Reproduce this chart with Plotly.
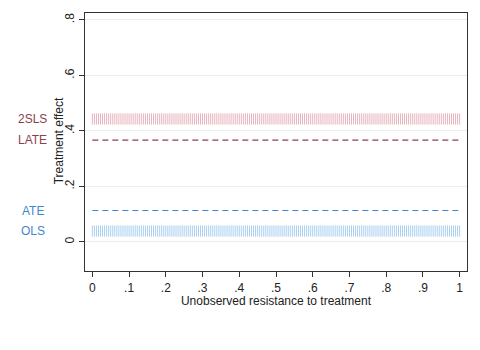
import numpy as np
import plotly.graph_objects as go

# Data
series_names = ["2SLS", "LATE", "ATE", "OLS"]
series_values = [0.443, 0.367, 0.113, 0.039]
series_styles = ["band", "dash", "dash", "band"]
series_colors = ["#8c3f4f", "#8c3f4f", "#3f86cf", "#3f86cf"]
band_colors = ["#e6b3bc", None, None, "#a9cfef"]
x_ticks = [0, 0.1, 0.2, 0.3, 0.4, 0.5, 0.6, 0.7, 0.8, 0.9, 1]
x_ticktext = ["0", ".1", ".2", ".3", ".4", ".5", ".6", ".7", ".8", ".9", "1"]
y_ticks = [0, 0.2, 0.4, 0.6, 0.8]
y_ticktext = ["0", ".2", ".4", ".6", ".8"]
u_grid = np.linspace(0, 1, 181)

fig = go.Figure()
for name, val, style, col, bcol in zip(series_names, series_values, series_styles, series_colors, band_colors):
    if style == "band":
        fig.add_trace(go.Scatter(
            x=u_grid, y=[val] * len(u_grid), mode="markers",
            marker=dict(symbol="line-ns", size=8, line=dict(color=bcol, width=1)),
            showlegend=False, hoverinfo="skip"))
    else:
        fig.add_trace(go.Scatter(
            x=[0, 1], y=[val, val], mode="lines",
            line=dict(color=col, width=1.2, dash="6px,4px"),
            showlegend=False, hoverinfo="skip"))
    fig.add_annotation(x=-0.137, y=val, xref="paper", yref="y", text=name,
                       showarrow=False, xanchor="center", yanchor="middle",
                       font=dict(color=col, size=12, family="Liberation Sans, Arial"))

# y-axis title placed as rotated text
fig.add_annotation(x=-0.069, y=0.505, xref="paper", yref="paper",
                   text="Treatment effect", textangle=-90, showarrow=False,
                   xanchor="center", yanchor="middle",
                   font=dict(size=12, color="#222222", family="Liberation Sans, Arial"))

fig.update_layout(
    width=480, height=350,
    margin=dict(l=85, r=13, t=13, b=79),
    paper_bgcolor="white", plot_bgcolor="white",
    font=dict(family="Liberation Sans, Arial", size=12, color="#222222"),
    showlegend=False,
)
fig.update_xaxes(
    range=[-0.02, 1.02], tickvals=x_ticks, ticktext=x_ticktext,
    showgrid=False, zeroline=False,
    showline=True, linecolor="#333333", linewidth=1.2, mirror=True,
    ticks="outside", ticklen=5, tickcolor="#333333",
    title=dict(text="Unobserved resistance to treatment", standoff=0,
               font=dict(size=12)),
    tickfont=dict(size=12),
)
fig.update_yaxes(
    range=[-0.105, 0.825], tickvals=y_ticks, ticktext=y_ticktext,
    tickangle=-90,
    showgrid=True, gridcolor="#e6eef0", gridwidth=1, zeroline=False,
    showline=True, linecolor="#333333", linewidth=1.2, mirror=True,
    ticks="outside", ticklen=5, tickcolor="#333333",
    tickfont=dict(size=12),
)

fig.write_html("out.html")
